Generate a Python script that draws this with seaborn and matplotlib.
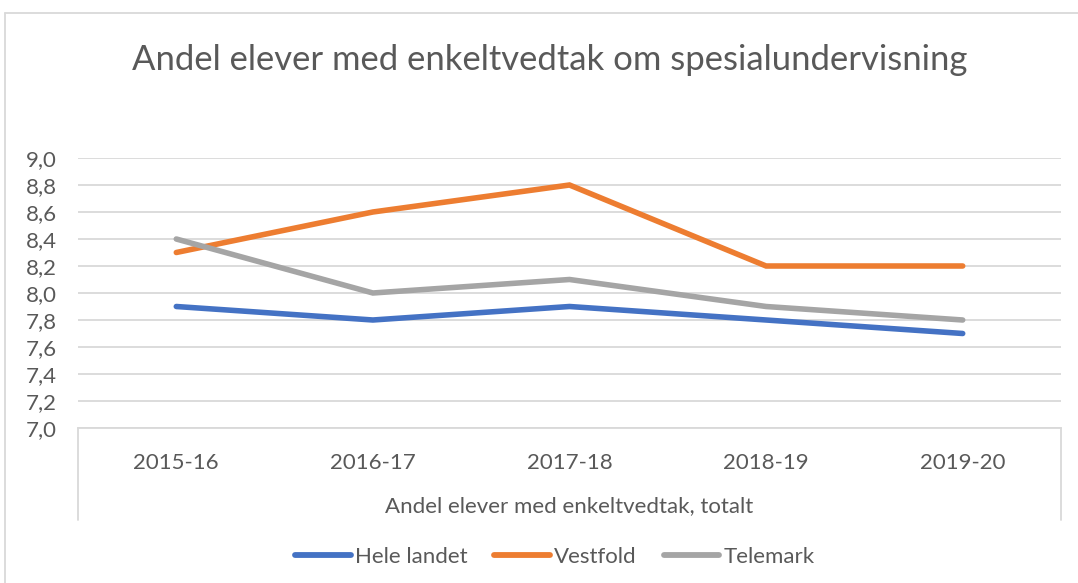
import matplotlib
matplotlib.use("Agg")
import matplotlib.pyplot as plt
from matplotlib.lines import Line2D
from matplotlib.ticker import FuncFormatter, MultipleLocator
import seaborn as sns
import pandas as pd

# data
years = ["2015-16", "2016-17", "2017-18", "2018-19", "2019-20"]
hele_landet = [7.9, 7.8, 7.9, 7.8, 7.7]
vestfold = [8.3, 8.6, 8.8, 8.2, 8.2]
telemark = [8.4, 8.0, 8.1, 7.9, 7.8]
series_names = ["Hele landet", "Vestfold", "Telemark"]
colors = ["#4472C4", "#ED7D31", "#A5A5A5"]

df = pd.DataFrame({
    "year": years * 3,
    "value": hele_landet + vestfold + telemark,
    "serie": [n for n in series_names for _ in years],
})

sns.set_theme(style="white")
plt.rcParams["font.family"] = ["Lato", "DejaVu Sans"]
txt = "#595959"
grid = "#D9D9D9"
fs = 16

W, H = 1078, 583
fig = plt.figure(figsize=(W / 100, H / 100), dpi=100)
ax = fig.add_axes([78 / W, 1 - 428 / H, (1061 - 78) / W, (428 - 158) / H])

sns.lineplot(data=df, x="year", y="value", hue="serie", palette=colors,
             linewidth=4.0, ax=ax, legend=False, sort=False,
             solid_capstyle="round", solid_joinstyle="miter")

ax.set_xlim(-0.5, 4.5)
ax.set_ylim(7.0, 9.0)
ax.yaxis.set_major_locator(MultipleLocator(0.2))
ax.yaxis.set_major_formatter(FuncFormatter(lambda v, p: f"{v:.1f}".replace(".", ",")))
ax.grid(axis="y", color=grid, linewidth=1.3)
ax.set_axisbelow(True)
for s in ["top", "right", "left"]:
    ax.spines[s].set_visible(False)
ax.spines["bottom"].set_color(grid)
ax.spines["bottom"].set_linewidth(1.3)
ax.tick_params(axis="y", length=0, pad=15, labelsize=fs, labelcolor=txt)
ax.tick_params(axis="x", length=0, pad=18, labelsize=fs, labelcolor=txt)
ax.set_xlabel("")
ax.set_ylabel("")

# category axis box
for xp in [78, 1061]:
    fig.add_artist(Line2D([xp / W, xp / W], [1 - 428 / H, 1 - 520 / H],
                          color=grid, linewidth=1.3))
fig.text(569 / W, 1 - 506 / H, "Andel elever med enkeltvedtak, totalt",
         ha="center", va="center", fontsize=fs, color=txt)

# outer chart border
fig.add_artist(Line2D([4.5 / W, 4.5 / W], [0, 1 - 13 / H], color=grid, linewidth=1.3))
fig.add_artist(Line2D([4.5 / W, 1], [1 - 13 / H, 1 - 13 / H], color=grid, linewidth=1.3))

fig.text(550 / W, 1 - 60 / H, "Andel elever med enkeltvedtak om spesialundervisning",
         ha="center", va="center", fontsize=24.9, color=txt)

handles = [Line2D([], [], color=c, linewidth=4.2, solid_capstyle="round") for c in colors]
fig.legend(handles, series_names, loc="center", bbox_to_anchor=(555 / W, 1 - 557 / H),
           ncol=3, frameon=False, fontsize=fs, labelcolor=txt,
           handlelength=2.5, handletextpad=0.2, columnspacing=1.2)

fig.savefig("out.png", dpi=100)
